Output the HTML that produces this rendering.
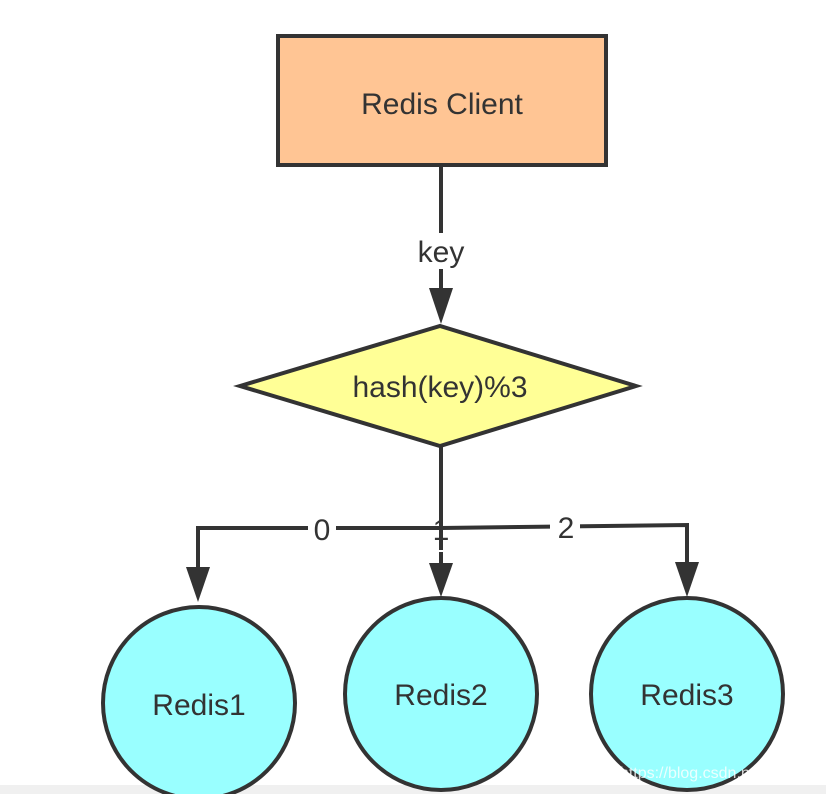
<!DOCTYPE html>
<html><head><style>body{margin:0;background:#fff}svg{display:block}</style></head><body>
<svg width="826" height="794" viewBox="0 0 826 794" font-family="Liberation Sans, sans-serif">
<rect x="0" y="0" width="826" height="794" fill="#fff"/>
<rect x="0" y="785" width="826" height="9" fill="#f0f0f0"/>
<g stroke="#333" stroke-width="4" fill="none">
<rect x="278" y="36" width="328" height="129" fill="#FFC594"/>
<line x1="441" y1="165" x2="441" y2="292"/>
<polygon points="240,386 440,326 636,386 440,446" fill="#FFFF96"/>
<polyline points="441,446 441,528 198,528 198,570"/>
<polyline points="441,528 687,525 687,568"/>
<line x1="441" y1="528" x2="441" y2="550"/>
<line x1="441" y1="552" x2="441" y2="568"/>
<circle cx="199" cy="703" r="96" fill="#99FFFF"/>
<circle cx="441" cy="694" r="96" fill="#99FFFF"/>
<circle cx="687" cy="694" r="96" fill="#99FFFF"/>
</g>
<g fill="#333">
<polygon points="429,288 453,288 441,324"/>
<polygon points="186,567 210,567 198,602"/>
<polygon points="429,563 453,563 441,597"/>
<polygon points="675,562 699,562 687,597"/>
</g>
<g fill="#fff"><rect x="405" y="233" width="72" height="36"/><rect x="308" y="512" width="28" height="32"/><rect x="550" y="510" width="30" height="32"/></g>
<g fill="#333" font-size="30" text-anchor="middle">
<text x="442" y="114">Redis Client</text>
<text x="441" y="262">key</text>
<text x="440" y="397">hash(key)%3</text>
<text x="322" y="540">0</text>
<text x="441" y="540">1</text>
<text x="566" y="538">2</text>
<text x="199" y="715">Redis1</text>
<text x="441" y="705">Redis2</text>
<text x="687" y="705">Redis3</text>
</g>
<text x="720" y="778" font-size="16" fill="#fff" fill-opacity="0.8" text-anchor="middle">https://blog.csdn.net/ko0491</text>
</svg>
</body></html>
